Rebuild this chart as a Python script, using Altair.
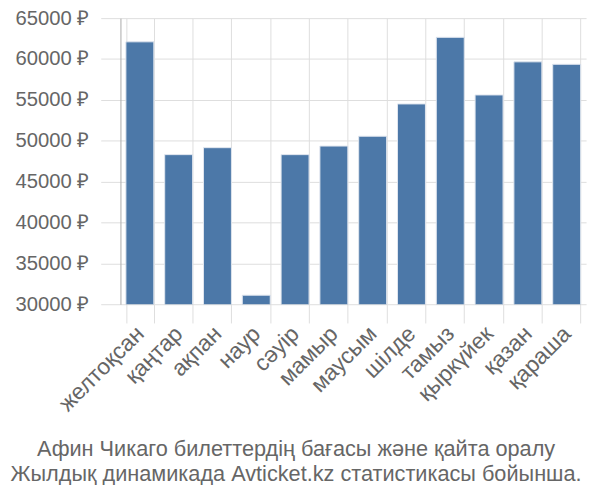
import altair as alt
import pandas as pd

months = ["желтоқсан", "қаңтар", "ақпан", "наур", "сәуір", "мамыр",
          "маусым", "шілде", "тамыз", "қыркүйек", "қазан", "қараша"]
prices = [62100, 48300, 49150, 31100, 48300, 49350,
          50550, 54500, 62650, 55600, 59650, 59350]
y_ticks = [30000, 35000, 40000, 45000, 50000, 55000, 60000, 65000]
title_lines = ["Афин Чикаго билеттердің бағасы және қайта оралу",
               "Жылдық динамикада Avticket.kz статистикасы бойынша."]

df = pd.DataFrame({"month": months, "price": prices})

FONT = "Liberation Sans"
GRID = "#dddddd"

chart = alt.Chart(df).mark_bar(
    color="#4c78a8", stroke="#dfe6ef", strokeWidth=1, clip=True
).encode(
    x=alt.X("month:N", sort=months,
            scale=alt.Scale(paddingInner=0.28, paddingOuter=0.14),
            axis=alt.Axis(title=None, labelAngle=-45, labelAlign="right",
                          labelBaseline="middle", labelPadding=7,
                          tickBand="extent", tickSize=19, tickColor=GRID,
                          grid=True, gridColor=GRID, gridWidth=1,
                          domain=False, labelFont=FONT, labelFontSize=23,
                          labelColor="#666666")),
    y=alt.Y("price:Q", scale=alt.Scale(domain=[30000, 65000], nice=False, zero=False),
            axis=alt.Axis(title=None, values=y_ticks, labelExpr="datum.value + ' ₽'",
                          tickSize=20, tickColor=GRID, labelPadding=12,
                          grid=True, gridColor=GRID, gridWidth=1,
                          domain=True, domainColor="#aaaaaa",
                          labelFont=FONT, labelFontSize=20.5, labelColor="#666666")),
).properties(
    width=472, height=290,
    title=alt.TitleParams(text=title_lines, orient="bottom", anchor="middle",
                          font=FONT, fontSize=22, fontWeight="normal",
                          color="#666666", lineHeight=25, offset=24, dx=-58),
    autosize=alt.AutoSizeParams(type="none"),
    padding={"left": 114, "top": 7, "right": 6, "bottom": 180},
).configure_view(stroke=None)

chart.save("out.html", embed_options={"renderer": "svg", "actions": False})
